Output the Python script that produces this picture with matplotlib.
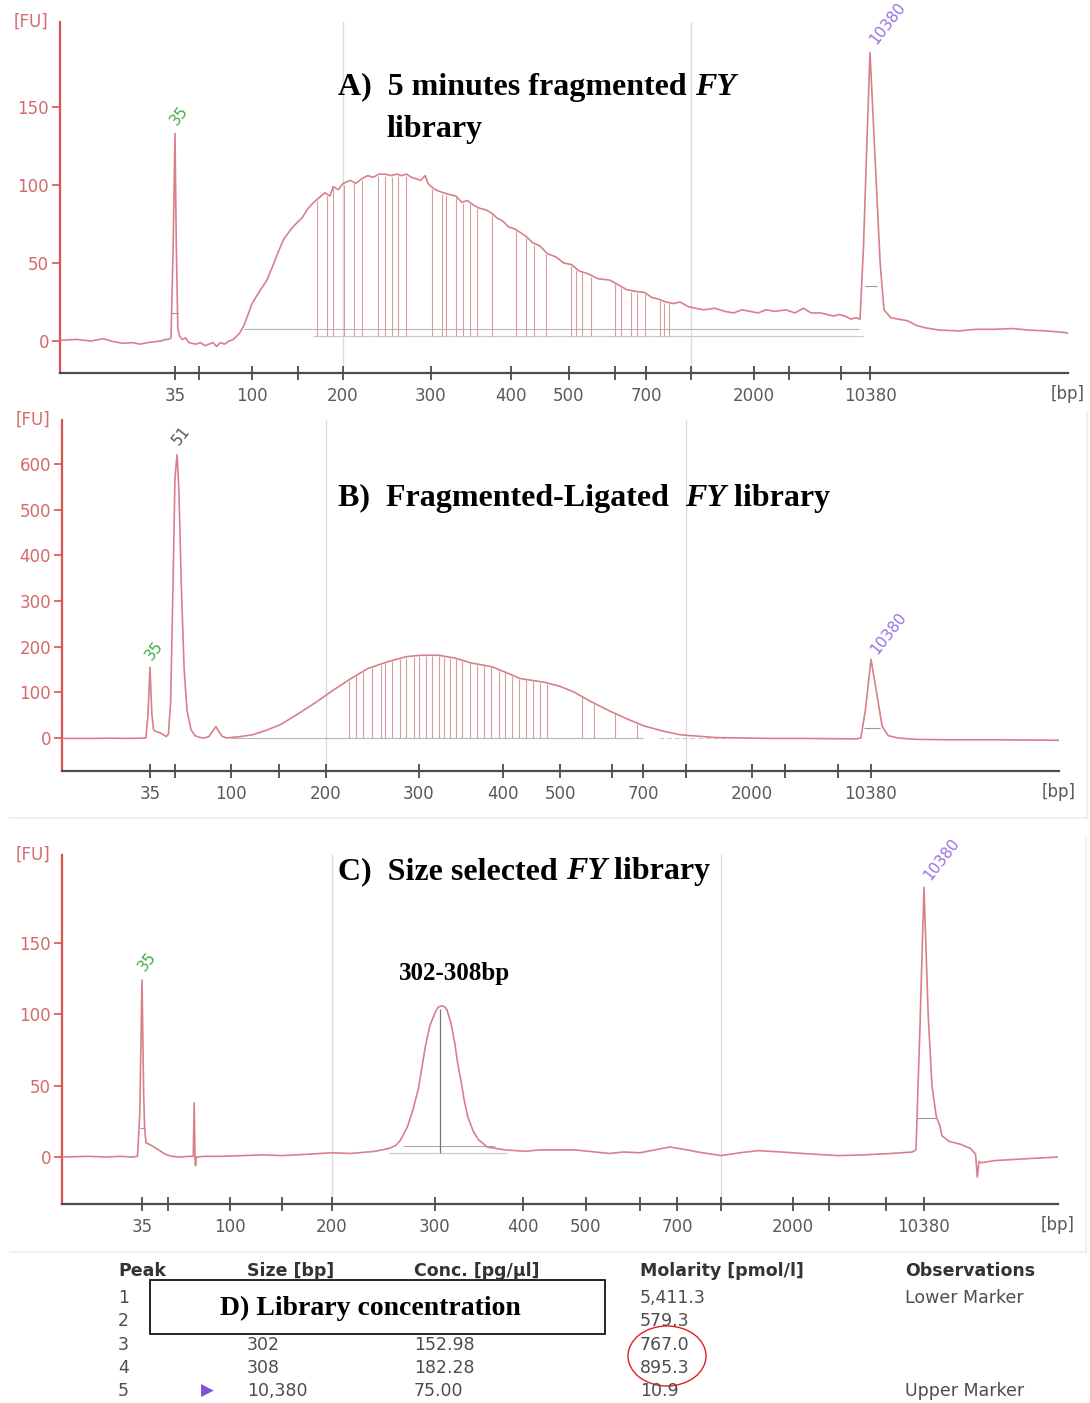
import numpy as np
import matplotlib
matplotlib.use('Agg')
import matplotlib.pyplot as plt
from matplotlib.patches import Rectangle, Ellipse
from matplotlib.lines import Line2D
from matplotlib.ticker import NullLocator

# ---------------- data ----------------
ladder_bp = [35, 50, 100, 150, 200, 300, 400, 500, 600, 700, 1000, 2000, 3000, 7000, 10380]
ladder_labels = ['35', '', '100', '', '200', '300', '400', '500', '', '700', '', '2000', '', '', '10380']
X_MIN, X_MAX = 10, 50000

# Panel A: 5 minutes fragmented FY library
a_bp = [10, 12, 14, 16, 18, 20, 22, 24, 26, 28, 30, 31.5, 32.5, 33.5, 34.3, 35, 35.7, 36.5, 37.5, 39,
        41, 43, 45, 48, 51, 54, 57, 60, 63, 66, 70, 74, 77, 80, 85, 90, 95, 100, 107, 114,
        120, 126, 132, 140, 147, 154, 160, 166, 172, 178, 184, 188, 194, 200, 207, 212, 218, 224, 230, 236,
        243, 250, 256, 262, 268, 274, 280, 286, 292, 296, 300, 305, 309, 314, 320, 328, 335, 342, 350, 358,
        366, 373, 380, 388, 397, 405, 413, 424, 435, 447, 460, 475, 490, 505, 520, 540, 560, 588, 610, 635,
        660, 697, 730, 770, 820, 870, 917, 980, 1050, 1150, 1302, 1450, 1600, 1750, 1912, 2100, 2300, 2550, 2897, 3300,
        3800, 4300, 5030, 5600, 6200, 6800, 7390, 8000, 8600, 9060, 9500, 9900, 10380, 10850, 11250, 11600, 12240, 13000, 13990, 15000,
        16080, 18000, 21200, 24000, 27900, 32000, 36800, 42000, 48500, 50000]
a_fu = [0.5, 1, 0, 1.5, -0.5, -1.5, -1, -2, -1, -0.5, 0, 1, 1, 2, 60, 133, 60, 8, 3, 1,
        2, -1, -1.5, -2, -1, -3, -2, -1, -3.5, -1, -2, 0, 0.5, 2, 5, 10, 17, 24, 32, 39,
        48, 57, 65, 71, 75, 79, 85, 89, 92, 95, 93, 99, 97, 101, 103, 101, 104, 106, 105, 107,
        107, 106, 107, 106, 107, 105, 104, 103, 106, 101, 99, 97, 96, 95, 94, 93, 89, 90, 87, 85,
        84, 82, 79, 77, 73, 72, 70, 67, 63, 61, 56, 54, 50, 49, 45, 43, 40, 39, 36, 33,
        32, 31, 28, 27, 25, 24, 25, 22, 21, 20, 21, 19, 18, 20, 19, 18, 20, 19, 20, 18,
        21, 18, 18, 17, 16, 17, 16, 14, 15, 14, 60, 120, 185, 110, 50, 20, 15, 14, 13, 10,
        8.5, 7, 6.5, 7.5, 7.5, 8, 7, 6.5, 5.5, 5]
a_peaks = [169, 181, 188, 201, 210, 218, 235, 243, 251, 258, 267, 301, 312, 317, 328, 337, 345, 354,
           373, 408, 424, 437, 458, 504, 515, 527, 545, 600, 618, 650, 668, 697, 784, 810, 840]

# Panel B: Fragmented-Ligated FY library
b_bp = [10, 15, 20, 25, 30, 33, 34, 35, 35.9, 36.8, 38, 40, 42, 44, 45.5, 47, 48.5, 50, 51.3, 52.5,
        54, 56, 58, 61, 64, 68, 72, 76, 80, 83, 86, 90, 95, 100, 108, 120, 135, 152, 168, 188,
        206, 223, 240, 262, 284, 302, 321, 339, 359, 385, 409, 428, 470, 500, 526, 555, 595, 649, 709, 828,
        951, 1134, 1355, 1800, 2500, 4000, 6000, 8680, 9190, 9700, 10380, 10800, 11400, 12000, 13000, 15100, 20000, 30000, 50000]
b_fu = [-1, -1, -0.5, -1, -0.5, 0, 50, 155, 55, 18, 14, 12, 8, 3, 8, 80, 320, 570, 620, 540,
        340, 150, 60, 18, 5, 1, 0, 3, 16, 25, 14, 3, 0, 1, 3, 7, 17, 30, 52, 78,
        104, 130, 152, 167, 178, 181, 181, 175, 164, 156, 141, 130, 122, 113, 100, 81, 59, 41, 26, 15,
        7, 4, 1, 0, -1, -1, -1.5, -2, 0, 60, 172, 110, 25, 5, 0, -3, -4, -4, -5]
b_peaks = [221, 228, 235, 244, 254, 259, 267, 276, 284, 293, 300, 307, 314, 321, 327, 334, 340, 348,
           357, 366, 375, 384, 394, 403, 414, 426, 438, 450, 463, 476, 540, 563, 609, 681]

# Panel C: Size selected FY library
c_bp = [10, 15, 20, 25, 30, 32.6, 33.8, 35, 35.8, 36.3, 37, 40, 44, 48, 52, 58, 63, 66.3, 67, 67.6,
        68, 68.6, 75, 90, 110, 130, 150, 175, 200, 215, 237, 250, 257, 262, 269, 275, 281, 285, 289, 294,
        300, 303, 307, 310, 312, 316, 320, 323, 327, 330, 334, 340, 346, 356, 377, 404, 424, 481, 541, 567,
        600, 679, 760, 831, 1000, 1200, 1428, 1800, 2236, 3428, 5000, 7370, 9180, 9550, 9950, 10380, 10900, 11400, 12000, 12500,
        12800, 13900, 15900, 17900, 19000, 19400, 19800, 20300, 23800, 36300, 50000]
c_fu = [0, 0.5, 0, 0.5, 0, 0.5, 30, 124, 45, 20, 10, 8, 5, 2, 0.5, 0, 0.5, 0.5, 38, 0,
        -6, 0, 0.5, 0.5, 1, 1.5, 1, 2, 3, 2.5, 4, 6, 8, 12, 21, 33, 48, 63, 78, 92,
        101, 105, 106, 105, 103, 94, 80, 66, 52, 40, 28, 18, 12, 7, 5, 4, 5, 5, 2.5, 3.5,
        3, 7, 5, 3.5, 1, 3, 4.5, 3.5, 2.5, 1, 1.5, 2.5, 3.5, 5, 90, 189, 100, 50, 28, 22,
        15, 11, 9, 6, 2, -14, -3, -4, -2.5, -1, 0]

# Table (D)
table_header = ['Peak', 'Size [bp]', 'Conc. [pg/µl]', 'Molarity [pmol/l]', 'Observations']
peak_ids = ['1', '2', '3', '4', '5']
sizes = ['', '', '302', '308', '10,380']
concs = ['', '', '152.98', '182.28', '75.00']
molarity = ['5,411.3', '579.3', '767.0', '895.3', '10.9']
observations = ['Lower Marker', '', '', '', 'Upper Marker']

# ---------------- figure ----------------
W, H = 1090, 1403
fig = plt.figure(figsize=(W / 100, H / 100), dpi=100)
fig.patch.set_facecolor('white')


def fx(x):
    return x / W


def fy(y):
    return 1 - y / H


TRACE = '#d8808a'
RED_AX = '#d9534f'
GREEN = '#3fae49'
PURPLE = '#9a70e0'
SERIF = 'Liberation Serif'
TICK_FS = 12


def make_axes(box, anchors_px, ylim, yticks):
    l, t, r, b = box
    ax = fig.add_axes([fx(l), fy(b), (r - l) / W, (b - t) / H])
    logbp = np.log(np.array([X_MIN] + ladder_bp + [X_MAX], float))
    pos = np.array(anchors_px, float)

    def fwd(x):
        x = np.clip(np.asarray(x, float), 1e-6, None)
        return np.interp(np.log(x), logbp, pos)

    def inv(p):
        return np.exp(np.interp(np.asarray(p, float), pos, logbp))

    ax.set_xscale('function', functions=(fwd, inv))
    ax.set_xlim(X_MIN, X_MAX)
    ax.set_ylim(*ylim)
    ax.set_xticks(ladder_bp, labels=ladder_labels)
    ax.xaxis.set_minor_locator(NullLocator())
    ax.set_yticks(yticks)
    for s in ['top', 'right']:
        ax.spines[s].set_visible(False)
    ax.spines['left'].set_color(RED_AX)
    ax.spines['left'].set_linewidth(1.6)
    ax.spines['bottom'].set_color('#4d4d4d')
    ax.spines['bottom'].set_linewidth(1.6)
    ax.tick_params(axis='y', colors=RED_AX, labelcolor='#d46a6a', length=6, width=1.2,
                   labelsize=TICK_FS, pad=2)
    ax.tick_params(axis='x', colors='#4d4d4d', labelcolor='#5a5a5a', direction='inout',
                   length=10, width=1.3, labelsize=TICK_FS, pad=5)
    ax.set_facecolor('none')
    ax.text(-0.012, 1.0, '[FU]', transform=ax.transAxes, ha='right', va='center',
            color='#d46a6a', fontsize=TICK_FS)
    ax.text(1.0, -0.06, '[bp]', transform=ax.transAxes, ha='center', va='center',
            color='#5a5a5a', fontsize=TICK_FS)
    # grid lines at 200 and 1000 bp
    for g in (200, 1000):
        ax.axvline(g, color='#dcdcdc', lw=1.0, zorder=0)
    return ax


def interp_curve(xq, xs, ys):
    return np.interp(np.log(xq), np.log(xs), ys)


def title(ax, x, y, parts, size):
    t = ax.text(fx(x), fy(y), parts[0][0], transform=fig.transFigure, family=SERIF,
                weight='bold', style=parts[0][1], fontsize=size, va='baseline', ha='left')
    for s, st in parts[1:]:
        t = ax.annotate(s, xy=(1, 0), xycoords=t, va='bottom', ha='left', family=SERIF,
                        weight='bold', style=st, fontsize=size, annotation_clip=False)
    return t


def peak_label(ax, x, y, s, color, dx, dy):
    ax.annotate(s, xy=(x, y), xytext=(dx, dy), textcoords='offset points', rotation=52,
                ha='center', va='center', color=color, fontsize=11)


# ---- Panel A ----
axA = make_axes((60, 22, 1068, 373),
                [60, 175, 199, 252, 298, 343, 431, 511, 569, 615, 646, 691, 754, 789, 841, 870, 1068],
                (-20.5, 204.5), [0, 50, 100, 150])
axA.hlines(8, 90, 9000, color='#b5b5b5', lw=0.8, zorder=1)
axA.hlines(3, 165, 9500, color='#c8c8c8', lw=0.8, zorder=1)
axA.vlines(a_peaks, 3, interp_curve(a_peaks, a_bp, a_fu) - 1, color='#d99aa0', lw=0.8, zorder=1)
axA.hlines(35, 9750, 11000, color='#999999', lw=0.8, zorder=1)
axA.hlines(18, 33.6, 36.4, color='#999999', lw=0.8, zorder=1)
axA.plot(a_bp, a_fu, color=TRACE, lw=1.2, zorder=3)
peak_label(axA, 35, 133, '35', GREEN, 3, 13)
peak_label(axA, 10380, 185, '10380', PURPLE, 13, 21)
title(axA, 338, 95, [('A)  5 minutes fragmented ', 'normal'), ('FY', 'italic')], 23)
title(axA, 386, 137, [('library', 'normal')], 23)

# ---- Panel B ----
axB = make_axes((62, 420, 1059, 771),
                [62, 150, 175, 231, 279, 326, 419, 503, 560, 612, 643, 686, 752, 785, 838, 871, 1059],
                (-72.3, 696), [0, 100, 200, 300, 400, 500, 600])
axB.hlines(0, 100, 700, color='#b5b5b5', lw=0.8, zorder=1)
axB.hlines(0, 800, 1600, color='#c8c8c8', lw=0.8, ls=(0, (4, 3)), zorder=1)
axB.vlines(b_peaks, 0, interp_curve(b_peaks, b_bp, b_fu) - 2, color='#d99aa0', lw=0.8, zorder=1)
axB.hlines(22, 9500, 11200, color='#999999', lw=0.8, zorder=1)
axB.plot(b_bp, b_fu, color=TRACE, lw=1.2, zorder=3)
peak_label(axB, 35, 155, '35', GREEN, 3, 12)
peak_label(axB, 51.3, 620, '51', '#555555', 3, 14)
peak_label(axB, 10380, 172, '10380', PURPLE, 13, 19)
title(axB, 338, 506, [('B)  Fragmented-Ligated  ', 'normal'), ('FY', 'italic'), (' library', 'normal')], 23)

# ---- Panel C ----
axC = make_axes((62, 855, 1058, 1204),
                [62, 142, 168, 230, 282, 332, 435, 523, 586, 640, 677, 721, 793, 829, 886, 924, 1058],
                (-32.9, 211.6), [0, 50, 100, 150])
axC.hlines(8, 265, 365, color='#a8a8a8', lw=0.8, zorder=1)
axC.hlines(3, 250, 380, color='#c8c8c8', lw=0.8, zorder=1)
axC.vlines([305], 3, 104, color='#777777', lw=0.9, zorder=1)
axC.hlines(20, 33.8, 36.4, color='#999999', lw=0.8, zorder=1)
axC.hlines(27, 9700, 12000, color='#999999', lw=0.8, zorder=1)
axC.plot(c_bp, c_fu, color=TRACE, lw=1.2, zorder=3)
peak_label(axC, 35, 124, '35', GREEN, 4, 13)
peak_label(axC, 10380, 189, '10380', PURPLE, 13, 20)
title(axC, 338, 879, [('C)  Size selected ', 'normal'), ('FY', 'italic'), (' library', 'normal')], 23)
fig.text(fx(455), fy(980), '302-308bp', family=SERIF, weight='bold', fontsize=18,
         ha='center', va='baseline')

# faint panel borders
for (x0, y0, x1, y1) in [(10, 1252, 1086, 1252), (1086, 838, 1086, 1252),
                         (1087, 412, 1087, 818), (10, 818, 1087, 818)]:
    fig.add_artist(Line2D([fx(x0), fx(x1)], [fy(y0), fy(y1)], color='#ececec', lw=1.2))

# ---- Table D ----
col_x = [118, 247, 414, 640, 905]
for cx, h in zip(col_x, table_header):
    fig.text(fx(cx), fy(1271), h, fontsize=12.5, weight='bold', color='#333333',
             ha='left', va='center', family='DejaVu Sans')
row_y = [1298, 1321, 1345, 1368, 1391]
for i, ry in enumerate(row_y):
    for cx, col in zip(col_x, [peak_ids, sizes, concs, molarity, observations]):
        if col[i]:
            fig.text(fx(cx), fy(ry), col[i], fontsize=12.5, color='#4d4d4d',
                     ha='left', va='center', family='DejaVu Sans')
fig.text(fx(207), fy(1391), '▶', fontsize=12, color='#7b52d9', ha='center', va='center',
         family='DejaVu Sans')

fig.add_artist(Rectangle((fx(150), fy(1334)), (605 - 150) / W, (1334 - 1280) / H,
                         transform=fig.transFigure, facecolor='white', edgecolor='black', lw=1.2))
fig.text(fx(370), fy(1308), 'D) Library concentration', family=SERIF, weight='bold',
         fontsize=20, ha='center', va='center')
fig.add_artist(Ellipse((fx(667), fy(1356)), 78 / W, 60 / H, transform=fig.transFigure,
                       facecolor='none', edgecolor='#e02020', lw=1.0))

fig.savefig('out.png', dpi=100)
